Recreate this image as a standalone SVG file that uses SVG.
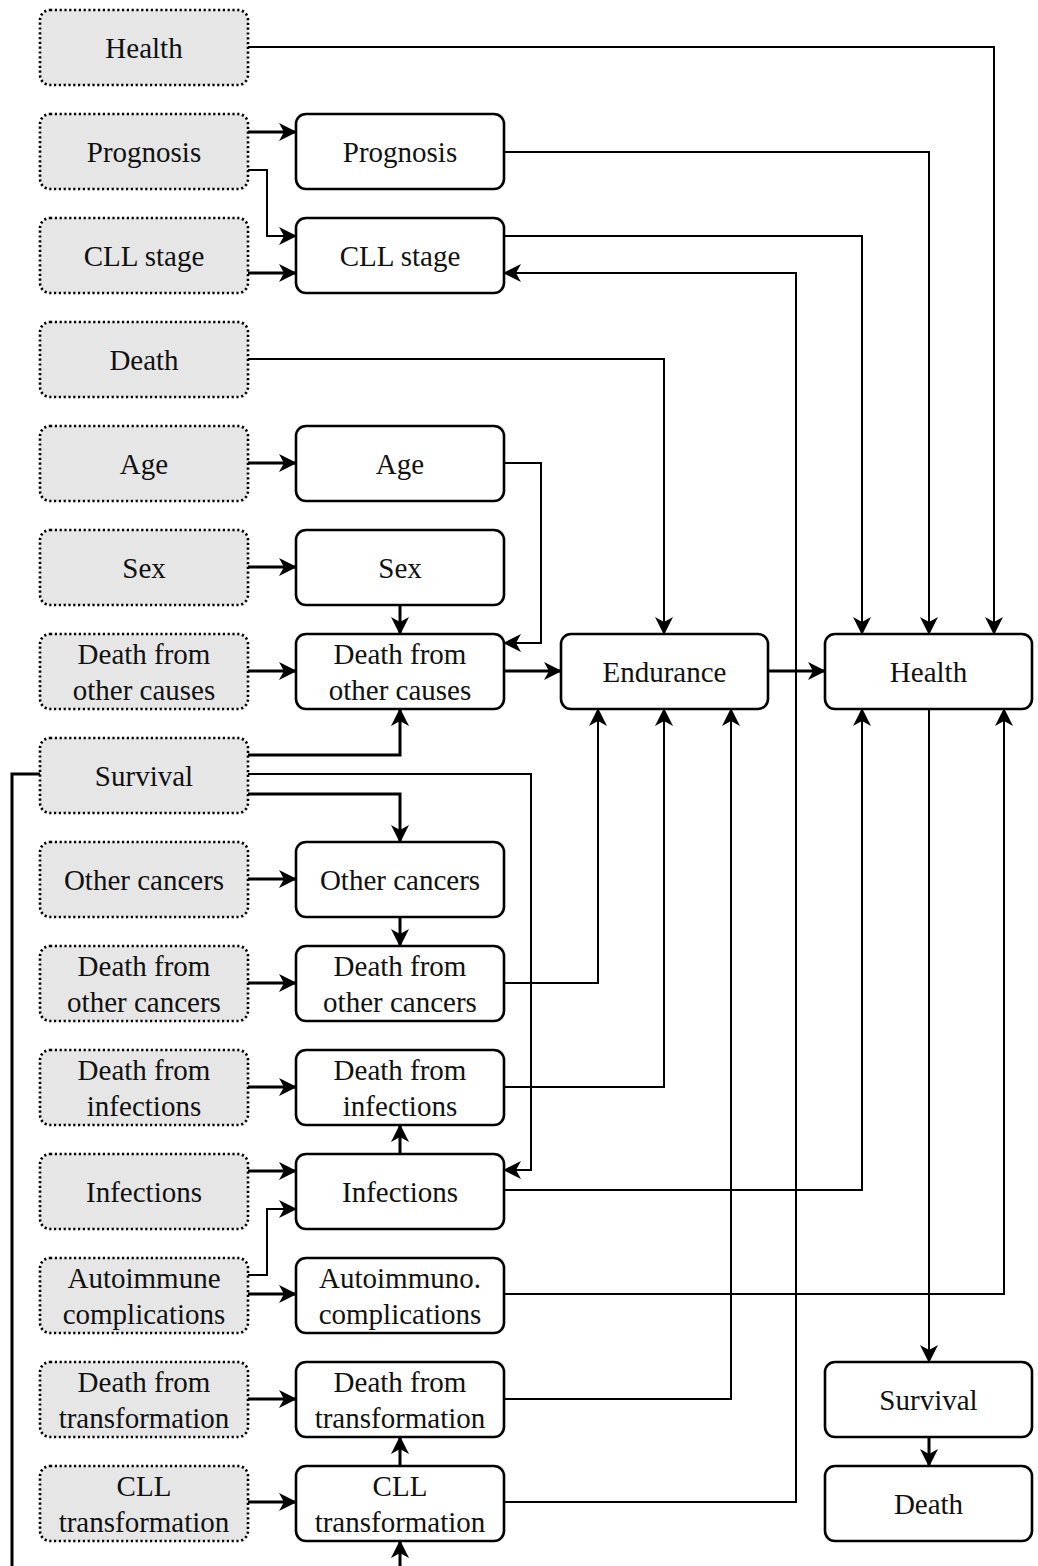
<svg xmlns="http://www.w3.org/2000/svg" width="1038" height="1566" viewBox="0 0 1038 1566">
<style>
.g{fill:#e6e6e6;stroke:#000;stroke-width:2.6;stroke-dasharray:2.2 2.6}
.w{fill:#fff;stroke:#000;stroke-width:2.6}
.lbl text{font-size:29px;fill:#111;text-anchor:middle}
.c path{fill:none;stroke:#000;stroke-width:2;marker-end:url(#ah)}
.c path.t{stroke-width:3}
</style>
<defs>
<marker id="ah" markerUnits="userSpaceOnUse" markerWidth="20" markerHeight="20" refX="17" refY="9" orient="auto" viewBox="0 0 20 20">
<path d="M0,0 L18,9 L0,18 L5,9 z" fill="#000"/>
</marker>
</defs>
<g class="c" id="connectors">
<path d="M248,47 H994 V634"/>
<path class="t" d="M248,132 H296"/>
<path d="M248,170 H267 V236 H296"/>
<path class="t" d="M248,273 H296"/>
<path d="M504,152 H929 V634"/>
<path d="M504,236 H862 V634"/>
<path d="M504,1502 H796 V273 H504"/>
<path d="M248,359 H664 V634"/>
<path class="t" d="M248,463 H296"/>
<path d="M504,463 H541 V643 H504"/>
<path class="t" d="M248,567 H296"/>
<path class="t" d="M400,605 V634"/>
<path class="t" d="M248,671 H296"/>
<path class="t" d="M504,671 H561"/>
<path class="t" d="M768,671 H825"/>
<path class="t" d="M248,755 H400 V709"/>
<path d="M248,774 H531 V1170 H504"/>
<path class="t" d="M248,794 H400 V842"/>
<path class="t" d="M40,774 H12 V1600 H400 V1541"/>
<path class="t" d="M248,879 H296"/>
<path class="t" d="M400,917 V946"/>
<path class="t" d="M248,983 H296"/>
<path d="M504,983 H598 V709"/>
<path class="t" d="M248,1087 H296"/>
<path d="M504,1087 H664 V709"/>
<path class="t" d="M400,1154 V1125"/>
<path class="t" d="M248,1171 H296"/>
<path d="M248,1275 H267 V1209 H296"/>
<path class="t" d="M248,1294 H296"/>
<path d="M504,1190 H862 V709"/>
<path d="M504,1294 H1004 V709"/>
<path d="M929,709 V1362"/>
<path class="t" d="M929,1437 V1466"/>
<path class="t" d="M248,1399 H296"/>
<path d="M504,1399 H731 V709"/>
<path class="t" d="M248,1502 H296"/>
<path class="t" d="M400,1466 V1437"/>
</g>
<g class="lbl" font-family="'Liberation Serif', 'DejaVu Serif', 'Times New Roman', serif">
<g id="in_health"><rect class="g" x="40" y="10" width="208" height="75" rx="10"/><text x="144" y="58">Health</text></g>
<g id="in_prognosis"><rect class="g" x="40" y="114" width="208" height="75" rx="10"/><text x="144" y="162">Prognosis</text></g>
<g id="in_cllstage"><rect class="g" x="40" y="218" width="208" height="75" rx="10"/><text x="144" y="266">CLL stage</text></g>
<g id="in_death"><rect class="g" x="40" y="322" width="208" height="75" rx="10"/><text x="144" y="370">Death</text></g>
<g id="in_age"><rect class="g" x="40" y="426" width="208" height="75" rx="10"/><text x="144" y="474">Age</text></g>
<g id="in_sex"><rect class="g" x="40" y="530" width="208" height="75" rx="10"/><text x="144" y="578">Sex</text></g>
<g id="in_dother"><rect class="g" x="40" y="634" width="208" height="75" rx="10"/><text x="144" y="664">Death from</text><text x="144" y="700">other causes</text></g>
<g id="in_survival"><rect class="g" x="40" y="738" width="208" height="75" rx="10"/><text x="144" y="786">Survival</text></g>
<g id="in_othercancers"><rect class="g" x="40" y="842" width="208" height="75" rx="10"/><text x="144" y="890">Other cancers</text></g>
<g id="in_dothercancers"><rect class="g" x="40" y="946" width="208" height="75" rx="10"/><text x="144" y="976">Death from</text><text x="144" y="1012">other cancers</text></g>
<g id="in_dinfections"><rect class="g" x="40" y="1050" width="208" height="75" rx="10"/><text x="144" y="1080">Death from</text><text x="144" y="1116">infections</text></g>
<g id="in_infections"><rect class="g" x="40" y="1154" width="208" height="75" rx="10"/><text x="144" y="1202">Infections</text></g>
<g id="in_autoimmune"><rect class="g" x="40" y="1258" width="208" height="75" rx="10"/><text x="144" y="1288">Autoimmune</text><text x="144" y="1324">complications</text></g>
<g id="in_dtransf"><rect class="g" x="40" y="1362" width="208" height="75" rx="10"/><text x="144" y="1392">Death from</text><text x="144" y="1428">transformation</text></g>
<g id="in_clltransf"><rect class="g" x="40" y="1466" width="208" height="75" rx="10"/><text x="144" y="1496">CLL</text><text x="144" y="1532">transformation</text></g>
<g id="prognosis"><rect class="w" x="296" y="114" width="208" height="75" rx="10"/><text x="400" y="162">Prognosis</text></g>
<g id="cllstage"><rect class="w" x="296" y="218" width="208" height="75" rx="10"/><text x="400" y="266">CLL stage</text></g>
<g id="age"><rect class="w" x="296" y="426" width="208" height="75" rx="10"/><text x="400" y="474">Age</text></g>
<g id="sex"><rect class="w" x="296" y="530" width="208" height="75" rx="10"/><text x="400" y="578">Sex</text></g>
<g id="dother"><rect class="w" x="296" y="634" width="208" height="75" rx="10"/><text x="400" y="664">Death from</text><text x="400" y="700">other causes</text></g>
<g id="othercancers"><rect class="w" x="296" y="842" width="208" height="75" rx="10"/><text x="400" y="890">Other cancers</text></g>
<g id="dothercancers"><rect class="w" x="296" y="946" width="208" height="75" rx="10"/><text x="400" y="976">Death from</text><text x="400" y="1012">other cancers</text></g>
<g id="dinfections"><rect class="w" x="296" y="1050" width="208" height="75" rx="10"/><text x="400" y="1080">Death from</text><text x="400" y="1116">infections</text></g>
<g id="infections"><rect class="w" x="296" y="1154" width="208" height="75" rx="10"/><text x="400" y="1202">Infections</text></g>
<g id="autoimmuno"><rect class="w" x="296" y="1258" width="208" height="75" rx="10"/><text x="400" y="1288">Autoimmuno.</text><text x="400" y="1324">complications</text></g>
<g id="dtransf"><rect class="w" x="296" y="1362" width="208" height="75" rx="10"/><text x="400" y="1392">Death from</text><text x="400" y="1428">transformation</text></g>
<g id="clltransf"><rect class="w" x="296" y="1466" width="208" height="75" rx="10"/><text x="400" y="1496">CLL</text><text x="400" y="1532">transformation</text></g>
<g id="endurance"><rect class="w" x="561" y="634" width="207" height="75" rx="10"/><text x="664.5" y="682">Endurance</text></g>
<g id="health"><rect class="w" x="825" y="634" width="207" height="75" rx="10"/><text x="928.5" y="682">Health</text></g>
<g id="survival"><rect class="w" x="825" y="1362" width="207" height="75" rx="10"/><text x="928.5" y="1410">Survival</text></g>
<g id="death"><rect class="w" x="825" y="1466" width="207" height="75" rx="10"/><text x="928.5" y="1514">Death</text></g>
</g>
</svg>
